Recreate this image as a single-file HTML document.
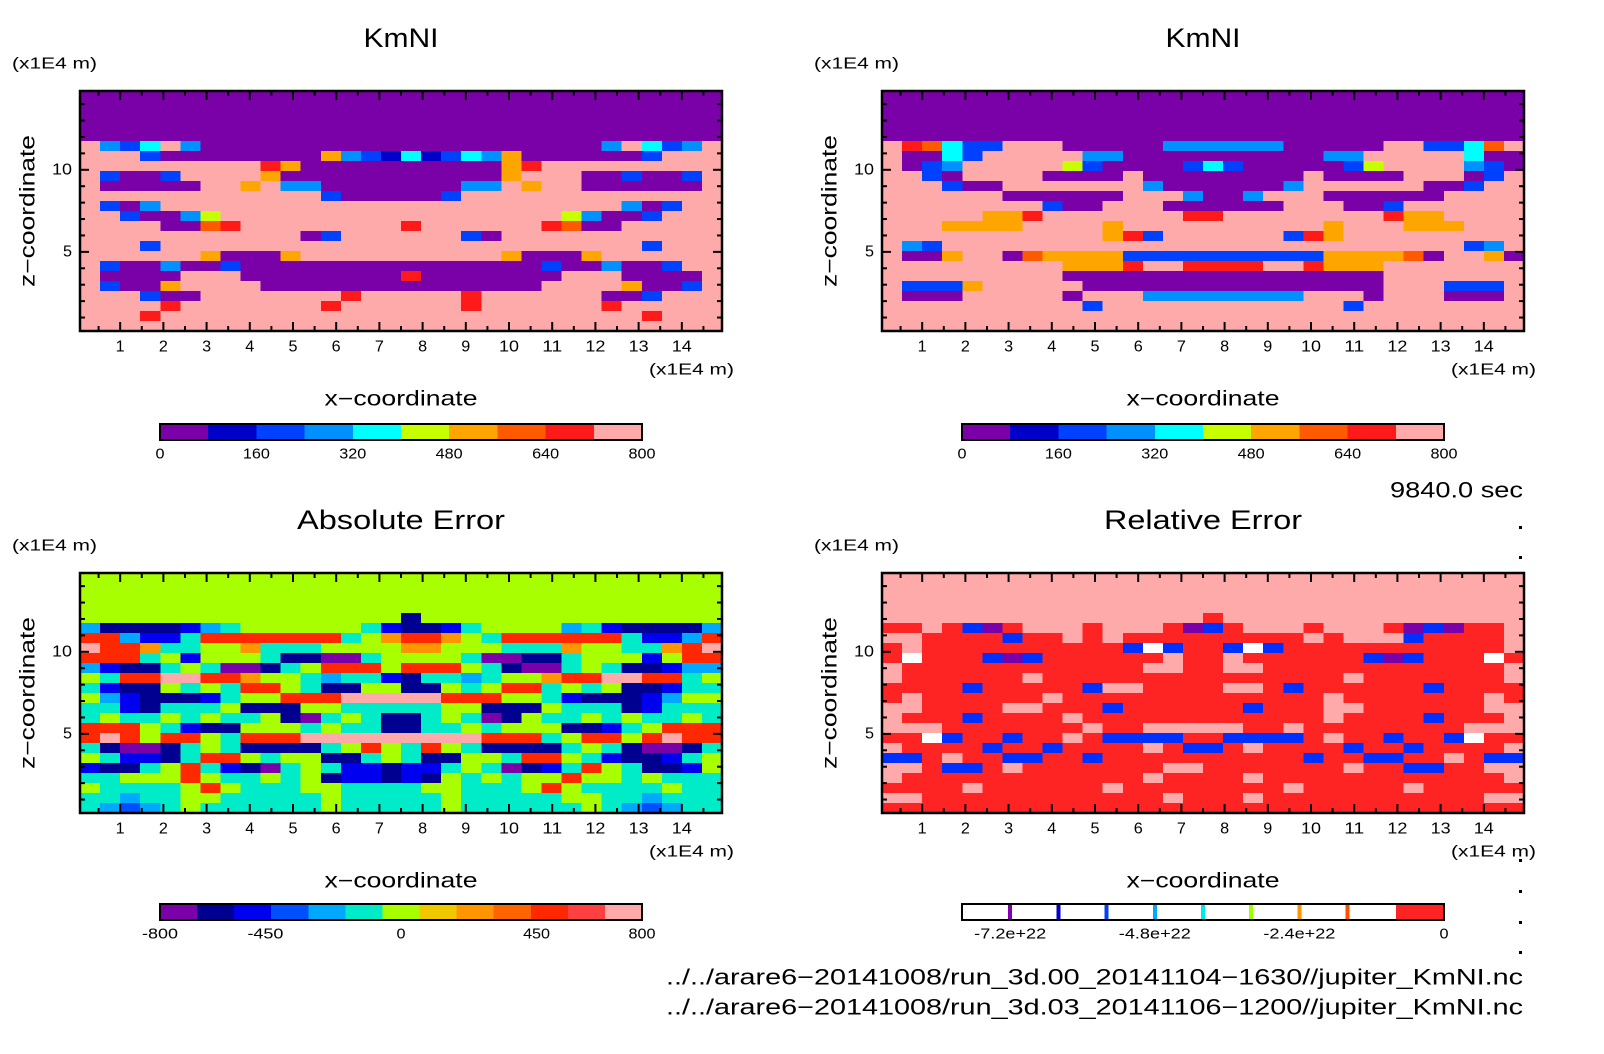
<!DOCTYPE html>
<html><head><meta charset="utf-8"><style>
html,body{margin:0;padding:0;background:#fff;}
svg{display:block;font-family:"Liberation Sans",sans-serif;}
</style></head><body>
<svg id="chart" width="1604" height="1054" viewBox="0 0 1604 1054" xmlns="http://www.w3.org/2000/svg">
<rect width="1604" height="1054" fill="#fff"/>
<g id="root"></g>
</svg>
<script>
// ---- data ----
const xTicks = [1,2,3,4,5,6,7,8,9,10,11,12,13,14];
const yTicks = [5,10];
const kmLevels = ["#7a00a8","#0000c8","#0040ff","#0090ff","#00ffff","#c8ff00","#ffa500","#ff5a00","#ff1a1a","#ffaaaa"];
const kmLabels = ["0","160","320","480","640","800"];
const absLevels = ["#7a00a8","#000090","#0000f0","#0050ff","#00a8ff","#00ecc8","#a8ff00","#f0c800","#ff9600","#ff6400","#ff2800","#ff4040","#ffaaaa"];
const absLabels = ["-800","-450","0","450","800"];
const absLabelVals = [-800,-450,0,450,800];
const relLineColors = ["#8000b0","#0000c8","#0040ff","#00a8ff","#00e8e8","#a0ff00","#ff9600","#ff5000"];
const relLabels = ["-7.2e+22","-4.8e+22","-2.4e+22","0"];
const relLabelVals = [-7.2e22,-4.8e22,-2.4e22,0];
const kmCodes = {"0":0,"1":1,"2":2,"3":3,"4":4,"5":5,"6":6,"7":7,"8":8,"9":9};
const gridTL = [
"00000000000000000000000000000000","00000000000000000000000000000000","00000000000000000000000000000000","00000000000000000000000000000000",
"00000000000000000000000000000000","93249300000000000000000000394239","99920000000063214124360000002999","99999999986000000000068999999999",
"92002999960000000000069990020029","90000099693300000003396990000009","99999999999920000029999999999999","92039999999999999999999999930299",
"99200359999999999999999953002999","99990078999999998999999870099999","99999999999029999992099999999999","99929999999999999999999999992999",
"99999960006999999999960006999999","92003002000000000000000200300299","90000999000000008000000099900009","92006999900000000000000999960029",
"99920099999998999998999999002999","99998999999989999998999999899999","99989999999999999999999999998999","99999999999999999999999999999999"];
const gridTR = [
"00000000000000000000000000000000","00000000000000000000000000000000","00000000000000000000000000000000","00000000000000000000000000000000",
"00000000000000000000000000000000","98742299900000333333000009922479","90042999993300000000003399999400","90239999952000024200000259999320",
"99209999000090000000090000999029","99920099999993000000399999900299","99999900000099930039990000009999","99999999200999000000999002999999",
"99999668999999988999999998669999","99966669999699999999996999666999","99999999999682999999286999999999","93299999999999999999999999999239",
"90069907666622222222226666709960","99999999966689988889986669999999","99999999900000000000000009999999","92226999990000000000000009992229",
"90009999909993333333399909990009","99999999992999999999999299999999","99999999999999999999999999999999","99999999999999999999999999999999"];
const absCodes = {a:0,b:1,c:2,d:3,e:4,f:5,g:6,h:7,i:8,j:9,k:10,l:11,m:12};
const gridBL = [
"gggggggggggggggggggggggggggggggg","gggggggggggggggggggggggggggggggg","gggggggggggggggggggggggggggggggg","gggggggggggggggggggggggggggggggg",
"ggggggggggggggggbggggggggggggggg","ebbbbcefggggggfcbbcfggggefcbbbbe","kkeccfkkkkkkkfgikkigfkkkkkkfccek","mkkiffggifffggggiigggfffiggffikm",
"kkkfgcgggfbbaafggggfaabbfgggcgkk","ecbbfgfaabfgkkkgkkkgfbaafgfbbcee","gfkkmmkkiggfeffcbffefggikkmmkkfg","fcbbgfgfkkgfbbggbbgfgkkfgfgbbcff",
"gecbbbcfggkkkmmmmmkkkggfcbbbcegg","ffcbfffgbbbggfffffggbbbgfffbcfff","fgffgfgffgbafgfbbfgfabgffgfgffgf","kkkgfcbbgggfgffbbffgfgggbbcfgkkk",
"kmkgkkgfkkkmmmmmmmmmkkkfgkkgkmkk","fbaabfgfbbbbfgkgfkgfbbbbfgfbaabf","gfccbfkkgfggbbfgfbbggfkkgfcbbcfg","cbbfgkfcbafgfccbccfgfabcfkgfbbcg",
"ffgggkgffgfgbccbcbgfgfggkggfgfff","gffffgkgfffggffffggfffgkgffffgff","ffeffggfffffgfffffgfffffggffefff","fedefgffffffgfffffgffffffgfedeff"];
const relCodes = {p:"#ffaaaa",r:"#ff2424",b:"#0030ff",u:"#7a00a8",w:"#ffffff"};
const gridBR = [
"pppppppppppppppppppppppppppppppp","pppppppppppppppppppppppppppppppp","pppppppppppppppppppppppppppppppp","pppppppppppppppppppppppppppppppp",
"pppppppppppppppprppppppppppppppp","rrprburppprppprubrppprpppruburrp","pprrrrbrrprprrrrrrrrrprpppbrrrrp","rprrrrrrrrrrbwbrrbwbrrrrrrrrrrrp",
"rwrrrbubrrrrrrprrprrrrrrbubrrrwr","prrrrrrrrrrrrpprrpprrrrrrrrrrrrp","prrrrrrprrrrrrrrrrrrrrrprrrrrrrp","rrrrbrrrrrbpprrrrpprbrrrrrrbrrrr",
"rprrrrrrprrrrrrrrrrrrrprrrrrrrpr","pprrrrpprrrbrrrrrrbrrrpprrrrrrpp","prrrbrrrrprrrrrrrrrrrrprrrrbrrrp","ppprrrrrrrprrppppprrprrrrrrrrppp",
"rrwbrrbrrprbbbbrrbbbbrprrbrrbwrr","prrrrbrrbrrrrprbbrprrrrbrrbrrrrp","bbrprrbbrrbrrrrrrrrrrbrrbbrrprbb","pprbbrprrrrrrrpprrrrrrrprrbbrrpp",
"prrrrrrrrrrrrprrrrprrrrrrrrrrrrp","rrrrprrrrrrprrrrrrrrprrrrrprrrrr","pprrrrrrrrrrrrprrrprrrrrrrrrrrpp","rrrrrrrrrrrrrrrrrrrrrrrrrrrrrrrr"];
const xDomain = [0.07, 14.93];
const yDomain = [0.18, 14.8];

// ---- drawing ----
const NS="http://www.w3.org/2000/svg";
const root=document.getElementById('root');
function mk(tag,attrs,parent){const e=document.createElementNS(NS,tag);for(const k in attrs)e.setAttribute(k,attrs[k]);(parent||root).appendChild(e);return e;}
function txt(s,x,y,size,anchor,parent,extra,len){const a=Object.assign({x:x,y:y,'font-size':size,'text-anchor':anchor||'middle','dominant-baseline':'central',fill:'#000'},extra||{});if(len){a.textLength=len;a.lengthAdjust='spacingAndGlyphs';}const t=mk('text',a,parent);t.textContent=s;return t;}

function panel(id,px,py,w,h,grid,colorOf,title,titleLen){
  const g=mk('g',{});
  
  
  const xs=v=>px+(v-xDomain[0])/(xDomain[1]-xDomain[0])*w;
  const ys=v=>py+h-(v-yDomain[0])/(yDomain[1]-yDomain[0])*h;
  const field=mk('g',{'shape-rendering':'crispEdges'},g);
  
  
  const nr=grid.length;
  for(let r=0;r<nr;r++){
    const row=grid[r];const nc=row.length;
    const v0=yDomain[1]-(r)*(yDomain[1]-yDomain[0])/nr, v1=yDomain[1]-(r+1)*(yDomain[1]-yDomain[0])/nr;
    for(let c=0;c<nc;c++){
      const u0=xDomain[0]+c*(xDomain[1]-xDomain[0])/nc, u1=xDomain[0]+(c+1)*(xDomain[1]-xDomain[0])/nc;
      const x0=xs(u0),x1=xs(u1),y0=ys(v0),y1=ys(v1);
      const cell=mk('rect',{x:x0,y:y0,width:x1-x0+0.6,height:y1-y0+0.6,fill:colorOf(row[c])},field);
      
      
    }
  }
  const fr=mk('rect',{x:px,y:py,width:w,height:h,fill:'none',stroke:'#000','stroke-width':2.5},g);
  
  
  for(let v=0.5;v<xDomain[1];v+=0.5){
    const major=Math.abs(v-Math.round(v))<1e-6;const L=major?9:5;const x=xs(v);
    mk('line',{x1:x,x2:x,y1:py,y2:py+L,stroke:'#000','stroke-width':2},g);
    mk('line',{x1:x,x2:x,y1:py+h,y2:py+h-L,stroke:'#000','stroke-width':2},g);
  }
  for(let v=1;v<yDomain[1];v+=1){
    const major=v%5===0;const L=major?9:5;const y=ys(v);
    mk('line',{x1:px,x2:px+L,y1:y,y2:y,stroke:'#000','stroke-width':2},g);
    mk('line',{x1:px+w,x2:px+w-L,y1:y,y2:y,stroke:'#000','stroke-width':2},g);
  }
  xTicks.forEach(v=>{const t=txt(String(v),xs(v),py+h+16,16,'middle',g,null,v>=10?20:9);
    
    });
  yTicks.forEach(v=>{const t=txt(String(v),px-8,ys(v),16,'end',g,null,v>=10?20:9);
    
    });
  let t=txt(title,px+w/2,py-53,27,'middle',g,null,titleLen);
  
  
  t=txt('(x1E4 m)',px-68,py-27,16,'start',g,null,85);
  
  
  t=txt('z\u2212coordinate',px-52,py+h/2,21,'middle',g,{transform:'rotate(-90 '+(px-52)+' '+(py+h/2)+')'},152);
  
  
  t=txt('(x1E4 m)',px+w-73,py+h+39,16,'start',g,null,85);
  
  
  t=txt('x\u2212coordinate',px+w/2,py+h+68,21,'middle',g,null,153);
  
  
}
const kmColor=ch=>kmLevels[kmCodes[ch]];
const absColor=ch=>absLevels[absCodes[ch]];
const relColor=ch=>relCodes[ch];
panel('kmni-left',80,91,642,240,gridTL,kmColor,'KmNI',75);
panel('kmni-right',882,91,642,240,gridTR,kmColor,'KmNI',75);
panel('absolute-error',80,573,642,240,gridBL,absColor,'Absolute Error',208);
panel('relative-error',882,573,642,240,gridBR,relColor,'Relative Error',198);

function colorbar(id,x,y,w,h,colors,labels,labelFrac){
  const g=mk('g',{'shape-rendering':'crispEdges'});
  
  
  const n=colors.length;
  colors.forEach((c,i)=>{const r=mk('rect',{x:x+i*w/n,y:y,width:w/n+0.5,height:h,fill:c},g);
    
    });
  mk('rect',{x:x,y:y,width:w,height:h,fill:'none',stroke:'#000','stroke-width':2},g);
  labels.forEach((s,i)=>{const t=txt(s,x+labelFrac[i]*w,y+h+14,15,'middle',g,null,s.length*9);
    
    });
}
colorbar('kmni-left-colorbar',160,424,482,16,kmLevels,kmLabels,kmLabels.map(s=>(+s)/800));
colorbar('kmni-right-colorbar',962,424,482,16,kmLevels,kmLabels,kmLabels.map(s=>(+s)/800));
colorbar('absolute-error-colorbar',160,904,482,16,absLevels,absLabels,absLabelVals.map(v=>(v+800)/1600));
(function(){
  const x=962,y=904,w=482,h=16,n=10;
  const g=mk('g',{'shape-rendering':'crispEdges'});
  
  
  mk('rect',{x:x,y:y,width:w,height:h,fill:'#fff'},g);
  mk('rect',{x:x+9*w/n,y:y,width:w/n,height:h,fill:'#ff2424'},g);
  relLineColors.forEach((c,i)=>{const r=mk('rect',{x:x+(i+1)*w/n-2,y:y,width:4,height:h,fill:c},g);
    
    });
  mk('rect',{x:x,y:y,width:w,height:h,fill:'none',stroke:'#000','stroke-width':2},g);
  relLabels.forEach((s,i)=>{const t=txt(s,x+(relLabelVals[i]+8e22)/8e22*w,y+h+14,15,'middle',g,null,s.length*9);
    
    });
})();
let t=txt('9840.0 sec',1523,490,22,'end',null,null,133);


t=txt('../../arare6\u221220141008/run_3d.00_20141104\u22121630//jupiter_KmNI.nc',1523,977,22,'end',null,null,857);


t=txt('../../arare6\u221220141008/run_3d.03_20141106\u22121200//jupiter_KmNI.nc',1523,1007,22,'end',null,null,857);


[526,556,859,890,921,951].forEach(y=>{const d=mk('rect',{x:1519,y:y,width:3,height:3,fill:'#000'});
  
  });
</script>
</body></html>
